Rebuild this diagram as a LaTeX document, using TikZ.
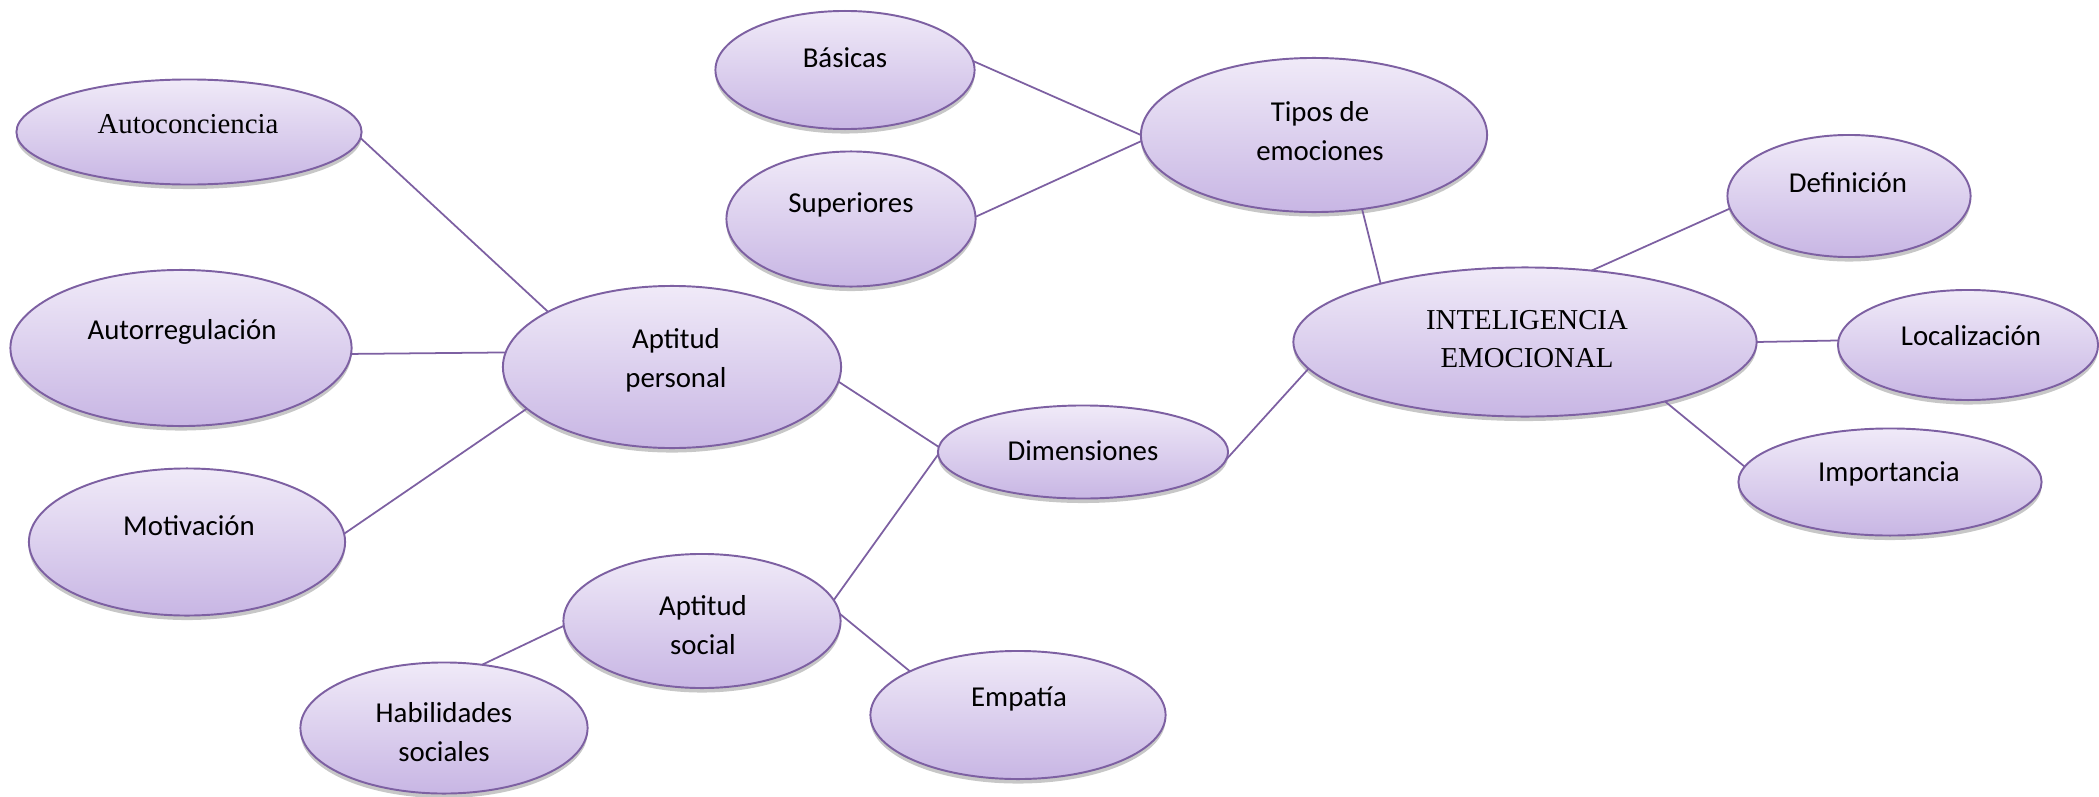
\documentclass[tikz,border=0pt]{standalone}
\usepackage{fontspec}
\setmainfont{Carlito}
\newfontfamily\tnr{Liberation Serif}
\usetikzlibrary{shapes.geometric,shadows}
\definecolor{edgec}{RGB}{125,96,162}
\definecolor{topc}{RGB}{240,234,248}
\definecolor{botc}{RGB}{200,182,228}
\tikzset{
  ell/.style={ellipse, draw=edgec, line width=0.55pt, top color=topc, bottom color=botc,
    inner sep=0pt, outer sep=0pt,
    drop shadow={shadow xshift=0pt, shadow yshift=-0.045cm, opacity=0.22, fill=black}},
  txt/.style={align=center, font=\fontsize{8.2}{11.2}\selectfont, inner sep=0pt},
  ttxt/.style={align=center, font=\tnr\fontsize{8.2}{10.7}\selectfont, inner sep=0pt},
  con/.style={draw=edgec, line width=0.5pt}
}
\begin{document}
\begin{tikzpicture}[x=0.01cm,y=-0.01cm]
\useasboundingbox (0,0) rectangle (2099,797);
% ellipses
\node[ell, minimum width=3.45cm, minimum height=1.05cm] (auto) at (189,132) {};
\node[ell, minimum width=2.59cm, minimum height=1.18cm] (bas) at (845,70) {};
\node[ell, minimum width=3.46cm, minimum height=1.54cm] (tipos) at (1314,135) {};
\node[ell, minimum width=2.49cm, minimum height=1.35cm] (sup) at (851,219) {};
\node[ell, minimum width=2.43cm, minimum height=1.22cm] (def) at (1849,196) {};
\node[ell, minimum width=4.63cm, minimum height=1.49cm] (ie) at (1525,342) {};
\node[ell, minimum width=2.60cm, minimum height=1.10cm] (loc) at (1968,345) {};
\node[ell, minimum width=3.03cm, minimum height=1.07cm] (imp) at (1890,482) {};
\node[ell, minimum width=3.41cm, minimum height=1.56cm] (autor) at (181,348) {};
\node[ell, minimum width=3.38cm, minimum height=1.62cm] (apers) at (672,367) {};
\node[ell, minimum width=3.16cm, minimum height=1.47cm] (mot) at (187,542) {};
\node[ell, minimum width=2.90cm, minimum height=0.93cm] (dim) at (1083,452) {};
\node[ell, minimum width=2.77cm, minimum height=1.34cm] (asoc) at (702,621) {};
\node[ell, minimum width=2.87cm, minimum height=1.31cm] (hab) at (444,728) {};
\node[ell, minimum width=2.95cm, minimum height=1.28cm] (emp) at (1018,715) {};
% texts
\node[ttxt] (autoT) at (188,124) {Autoconciencia};
\node[txt] (basT) at (845,58) {Básicas};
\node[txt] (tiposT) at (1320,131) {Tipos de\\emociones};
\node[txt] (supT) at (851,205) {Superiores};
\node[txt] (defT) at (1848,183) {Definición};
\node[ttxt] (ieT) at (1527,339) {INTELIGENCIA\\EMOCIONAL};
\node[txt] (locT) at (1971,336) {Localización};
\node[txt] (impT) at (1889,474) {Importancia};
\node[txt] (autorT) at (182,332) {Autorregulación};
\node[txt] (apersT) at (676,360) {Aptitud\\personal};
\node[txt] (motT) at (189,526) {Motivación};
\node[txt] (dimT) at (1083,451) {Dimensiones};
\node[txt] (asocT) at (703,625) {Aptitud\\social};
\node[txt] (habT) at (444,732) {Habilidades\\sociales};
\node[txt] (empT) at (1019,699) {Empatía};
% connectors
\draw[con] (auto.-2) -- (apers.156);
\draw[con] (autor.-2) -- (apers.175);
\draw[con] (mot.3) -- (apers.196);
\draw[con] (apers.-5) -- (dim.178);
\draw[con] (dim.181) -- (asoc.9);
\draw[con] (asoc.182) -- (hab.59);
\draw[con] (asoc.3) -- (emp.158);
\draw[con] (dim.-3) -- (ie.187);
\draw[con] (ie.158) -- (tipos.-57);
\draw[con] (tipos.180.5) -- (bas.4);
\draw[con] (tipos.182) -- (sup.1);
\draw[con] (ie.47) -- (def.186.5);
\draw[con] (ie.0) -- (loc.178);
\draw[con] (ie.-23) -- (imp.174);
\end{tikzpicture}
\end{document}
